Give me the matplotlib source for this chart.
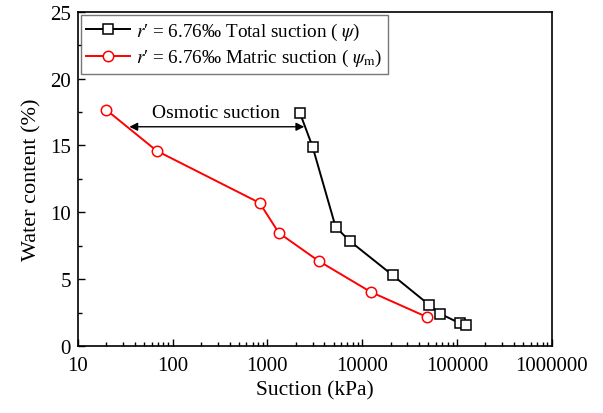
import matplotlib

matplotlib.use("Agg")
import matplotlib.pyplot as plt
from matplotlib.ticker import LogLocator, MultipleLocator, NullFormatter

plt.rcParams["font.family"] = ["Liberation Serif", "DejaVu Serif"]
plt.rcParams["mathtext.fontset"] = "stix"

total_suction = [2200, 3000, 5250, 7400, 20900, 51000, 67000, 107000, 126000]
total_water = [17.45, 14.9, 8.9, 7.85, 5.3, 3.07, 2.4, 1.7, 1.55]

matric_suction = [20, 68, 830, 1320, 3470, 12300, 48000]
matric_water = [17.66, 14.6, 10.7, 8.46, 6.36, 4.04, 2.17]

arrow_left = 35
arrow_right = 2450
arrow_y = 16.4

fig = plt.figure(figsize=(6.03, 4.14), dpi=100)
ax = fig.add_axes([0.129, 0.162, 0.786, 0.807])

ax.plot(total_suction, total_water, color="black", lw=1.4, marker="s", ms=6.5,
        mfc="white", mec="black", mew=1.1,
        label=r"$r$′ = 6.76‰ Total suction ( $\psi$)")
ax.plot(matric_suction, matric_water, color="red", lw=1.4, marker="o", ms=7.5,
        mfc="white", mec="red", mew=1.1,
        label=r"$r$′ = 6.76‰ Matric suction ( $\psi_{\rm m}$)")

ax.annotate("", xy=(arrow_left, arrow_y), xytext=(arrow_right, arrow_y),
            arrowprops=dict(arrowstyle="<|-|>", color="black", lw=1.0,
                            mutation_scale=12, shrinkA=0, shrinkB=0))
ax.text(290, 17.45, "Osmotic suction", ha="center", va="center", fontsize=14)

ax.set_xscale("log")
ax.set_xlim(10, 1e6)
ax.set_ylim(0, 25)
ax.set_xticks([10, 100, 1000, 10000, 100000, 1000000])
ax.set_xticklabels(["10", "100", "1000", "10000", "100000", "1000000"])
ax.xaxis.set_minor_locator(LogLocator(base=10, subs=range(2, 10), numticks=10))
ax.xaxis.set_minor_formatter(NullFormatter())
ax.yaxis.set_major_locator(MultipleLocator(5))
ax.yaxis.set_minor_locator(MultipleLocator(2.5))

ax.tick_params(which="both", direction="in", top=False, right=False, labelsize=15)
ax.tick_params(which="major", length=5, width=1)
ax.tick_params(which="minor", length=3, width=1)
ax.tick_params(axis="x", which="major", pad=7)
ax.tick_params(axis="y", which="major", pad=5)
for s in ax.spines.values():
    s.set_linewidth(1.2)

ax.set_xlabel("Suction (kPa)", fontsize=15.5, labelpad=4)
ax.set_ylabel("Water content (%)", fontsize=16, labelpad=6)

leg = ax.legend(loc="upper left", fontsize=13.8, frameon=True, fancybox=False,
                edgecolor="#555555", handlelength=2.3, handletextpad=0.3,
                borderpad=0.3, labelspacing=0.3, borderaxespad=0.15)
leg.get_frame().set_linewidth(1.0)

fig.savefig("out.png", dpi=100)
